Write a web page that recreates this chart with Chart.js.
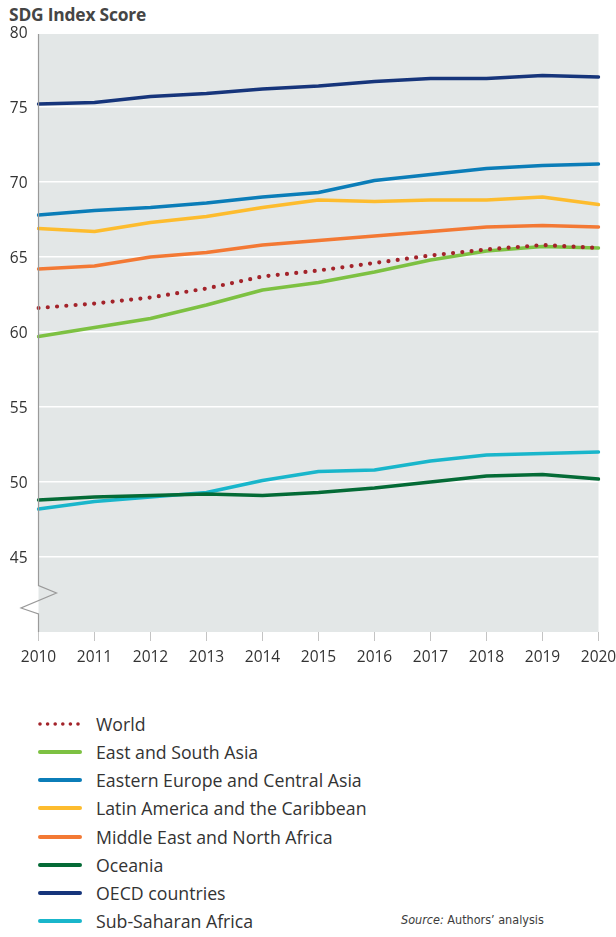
<!DOCTYPE html>
<html>
<head>
<meta charset="utf-8">
<script src="https://cdn.jsdelivr.net/npm/chart.js@4.4.1/dist/chart.umd.min.js"></script>
<style>
  html, body { margin: 0; padding: 0; background: #ffffff; }
  body { width: 616px; height: 937px; position: relative; overflow: hidden; font-family: "Open Sans", "Noto Sans", sans-serif; color: #333; }
  #title { position: absolute; left: 9px; top: 2px; font-weight: bold; font-size: 16.5px; color: #454545; white-space: nowrap; letter-spacing: -0.2px; }
  #wrap { position: absolute; left: 0; top: 0; width: 616px; height: 680px; }
  #legend { position: absolute; left: 37px; top: 710px; }
  .item { position: relative; height: 28.15px; display: flex; align-items: center; white-space: nowrap; }
  .item svg { width: 46px; height: 10px; margin-right: 13px; flex: none; }
  .item span { font-size: 17px; color: #333; font-weight: 400; }
  #source { position: absolute; left: 401px; top: 912px; font-family: "Liberation Sans Narrow", "DejaVu Sans Condensed", sans-serif; font-size: 14px; color: #3c3c3c; white-space: nowrap; }
</style>
</head>
<body>
<div id="title">SDG Index Score</div>
<div id="wrap"><canvas id="c" width="616" height="680"></canvas></div>
<div id="legend"></div>
<div id="source"><i>Source:</i> Authors’ analysis</div>
<script>
const years = ['2010','2011','2012','2013','2014','2015','2016','2017','2018','2019','2020'];
const yTicks = [45, 50, 55, 60, 65, 70, 75, 80];

const seriesNames = ['World','East and South Asia','Eastern Europe and Central Asia','Latin America and the Caribbean','Middle East and North Africa','Oceania','OECD countries','Sub-Saharan Africa'];

const world          = [61.6, 61.9, 62.3, 62.9, 63.7, 64.1, 64.6, 65.1, 65.5, 65.8, 65.6];
const eastSouthAsia  = [59.7, 60.3, 60.9, 61.8, 62.8, 63.3, 64.0, 64.8, 65.4, 65.7, 65.6];
const easternEurope  = [67.8, 68.1, 68.3, 68.6, 69.0, 69.3, 70.1, 70.5, 70.9, 71.1, 71.2];
const latinAmerica   = [66.9, 66.7, 67.3, 67.7, 68.3, 68.8, 68.7, 68.8, 68.8, 69.0, 68.5];
const middleEast     = [64.2, 64.4, 65.0, 65.3, 65.8, 66.1, 66.4, 66.7, 67.0, 67.1, 67.0];
const oceania        = [48.8, 49.0, 49.1, 49.2, 49.1, 49.3, 49.6, 50.0, 50.4, 50.5, 50.2];
const oecd           = [75.2, 75.3, 75.7, 75.9, 76.2, 76.4, 76.7, 76.9, 76.9, 77.1, 77.0];
const subSaharan     = [48.2, 48.7, 49.0, 49.3, 50.1, 50.7, 50.8, 51.4, 51.8, 51.9, 52.0];

const seriesValues = [world, eastSouthAsia, easternEurope, latinAmerica, middleEast, oceania, oecd, subSaharan];
const colors = ['#a3232a', '#7dc142', '#0b7db8', '#fdbc2e', '#f37934', '#046b36', '#16357b', '#19b6cb'];

const datasets = seriesNames.map((name, i) => {
  const ds = {
    label: name,
    data: seriesValues[i],
    borderColor: colors[i],
    backgroundColor: colors[i],
    borderWidth: 3.6,
    pointRadius: 0,
    pointHoverRadius: 0,
    tension: 0,
    fill: false,
    borderCapStyle: 'round',
    borderJoinStyle: 'round'
  };
  if (i === 0) { ds.borderDash = [0, 9.3]; ds.borderWidth = 4.2; }
  return ds;
});

const bgPlugin = {
  id: 'bg',
  beforeDraw(chart) {
    const a = chart.chartArea, ctx = chart.ctx;
    ctx.save();
    ctx.fillStyle = '#e3e7e7';
    ctx.fillRect(a.left, a.top + 2, a.right - a.left, a.bottom - a.top - 2);
    ctx.restore();
  }
};

const breakPlugin = {
  id: 'axisBreak',
  afterDatasetsDraw(chart) {
    const a = chart.chartArea, ctx = chart.ctx, y = chart.scales.y;
    const x0 = a.left;
    ctx.save();
    ctx.strokeStyle = '#9a9a9a';
    ctx.lineWidth = 1.2;
    ctx.beginPath();
    ctx.moveTo(x0, a.top + 2);
    ctx.lineTo(x0, y.getPixelForValue(43.1));
    ctx.lineTo(x0 + 18, y.getPixelForValue(42.6));
    ctx.lineTo(x0 - 17.5, y.getPixelForValue(41.6));
    ctx.lineTo(x0, y.getPixelForValue(41.2));
    ctx.lineTo(x0, a.bottom);
    ctx.stroke();
    ctx.restore();
  }
};

new Chart(document.getElementById('c'), {
  type: 'line',
  data: { labels: years, datasets },
  options: {
    responsive: false,
    animation: false,
    layout: { padding: { top: 32, right: 17.5, bottom: 6, left: 0 } },
    plugins: { legend: { display: false }, tooltip: { enabled: false }, title: { display: false } },
    scales: {
      x: {
        type: 'category',
        offset: false,
        afterFit(s) { s.height = 42; s.paddingLeft = 0; s.paddingRight = 0; },
        grid: { drawOnChartArea: false, drawTicks: true, tickLength: 9, color: '#c4c4c4', lineWidth: 1 },
        border: { display: false },
        ticks: { font: { family: 'Open Sans', size: 15.5 }, color: '#333', padding: 7, maxRotation: 0, autoSkip: false }
      },
      y: {
        min: 40, max: 80,
        afterFit(s) { s.width = 38.5; s.paddingTop = 0; s.paddingBottom = 0; },
        afterBuildTicks(s) { s.ticks = yTicks.map(v => ({ value: v })); },
        grid: { color: '#ffffff', lineWidth: 1.6, drawTicks: false },
        border: { display: false },
        ticks: { font: { family: 'Open Sans', size: 15.5 }, color: '#333', padding: 11, labelOffset: 2 }
      }
    }
  },
  plugins: [bgPlugin, breakPlugin]
});

// Legend built from the series arrays
const legend = document.getElementById('legend');
seriesNames.forEach((name, i) => {
  const div = document.createElement('div');
  div.className = 'item';
  const dash = i === 0 ? 'stroke-dasharray="0 7.6"' : '';
  const w = i === 0 ? 3.6 : 4;
  div.innerHTML = '<svg viewBox="0 0 46 10"><line x1="3" y1="5" x2="43" y2="5" stroke="' + colors[i] + '" stroke-width="' + w + '" stroke-linecap="round" ' + dash + '/></svg><span>' + name + '</span>';
  legend.appendChild(div);
});

// fit text widths to the reference
function fitWidth(el, target) {
  const cur = el.getBoundingClientRect().width;
  const fs = parseFloat(getComputedStyle(el).fontSize);
  el.style.fontSize = (fs * target / cur) + 'px';
}
const spans = legend.querySelectorAll('span');
const ref = spans[2];
const fs0 = parseFloat(getComputedStyle(ref).fontSize);
const w0 = ref.getBoundingClientRect().width;
const newFs = fs0 * 266 / w0;
spans.forEach(s => s.style.fontSize = newFs + 'px');
fitWidth(document.getElementById('title'), 137);
fitWidth(document.getElementById('source'), 143);
</script>
</body>
</html>
